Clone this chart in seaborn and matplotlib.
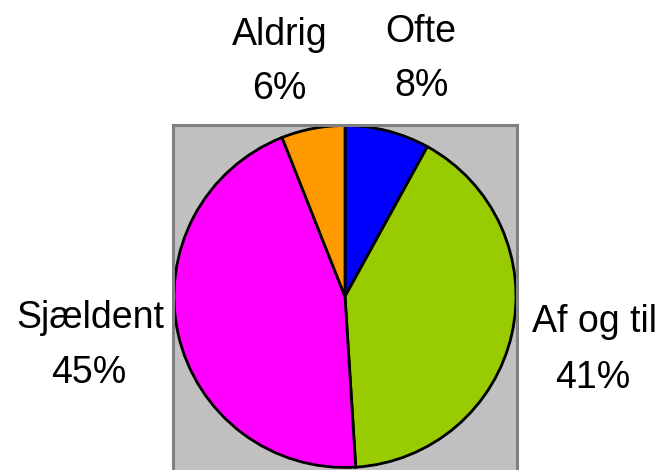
import seaborn as sns
import matplotlib
matplotlib.use("Agg")
import matplotlib.pyplot as plt

# Data
categories = ["Ofte", "Af og til", "Sjældent", "Aldrig"]
values = [8, 41, 45, 6]
pct_labels = ["8%", "41%", "45%", "6%"]
colors = ["#0000FF", "#99CC00", "#FF00FF", "#FF9900"]

sns.set_style("white")
plt.rcParams["font.family"] = ["Liberation Sans", "DejaVu Sans"]

W, H = 666, 470
fig = plt.figure(figsize=(W / 100, H / 100), dpi=100)

# Gray plot area (runs off the bottom of the figure like the original)
left, right, top, bottom = 173, 517, 125, 484
ax = fig.add_axes([left / W, (H - bottom) / H, (right - left) / W, (bottom - top) / H])
ax.set_facecolor("#C0C0C0")

ax.pie(values, colors=colors, startangle=90, counterclock=False, frame=True,
       wedgeprops=dict(edgecolor="black", linewidth=2.0))

# Scale so that the pie radius is ~171 px, centred at (345, 296.5)
r_px = 171
cx, cy = 345, 296.5
ax.set_aspect("auto")
ax.set_xlim((left - cx) / r_px, (right - cx) / r_px)
ax.set_ylim((cy - bottom) / r_px, (cy - top) / r_px)
ax.set_xticks([])
ax.set_yticks([])
for s in ax.spines.values():
    s.set_color("#808080")
    s.set_linewidth(2.2)

# Label layout (centre x, baseline y of name line, baseline y of percent line), in px
label_pos = {
    "Ofte": (421, 42, 422, 96),
    "Af og til": (595, 332, 593, 388),
    "Sjældent": (90, 328, 89, 383),
    "Aldrig": (280, 45, 279, 99),
}
for name, pct in zip(categories, pct_labels):
    x1, y1, x2, y2 = label_pos[name]
    fig.text(x1 / W, 1 - y1 / H, name, ha="center", va="baseline",
             fontsize=27, color="black")
    fig.text(x2 / W, 1 - y2 / H, pct, ha="center", va="baseline",
             fontsize=27, color="black")

fig.savefig("out.png", dpi=100)
